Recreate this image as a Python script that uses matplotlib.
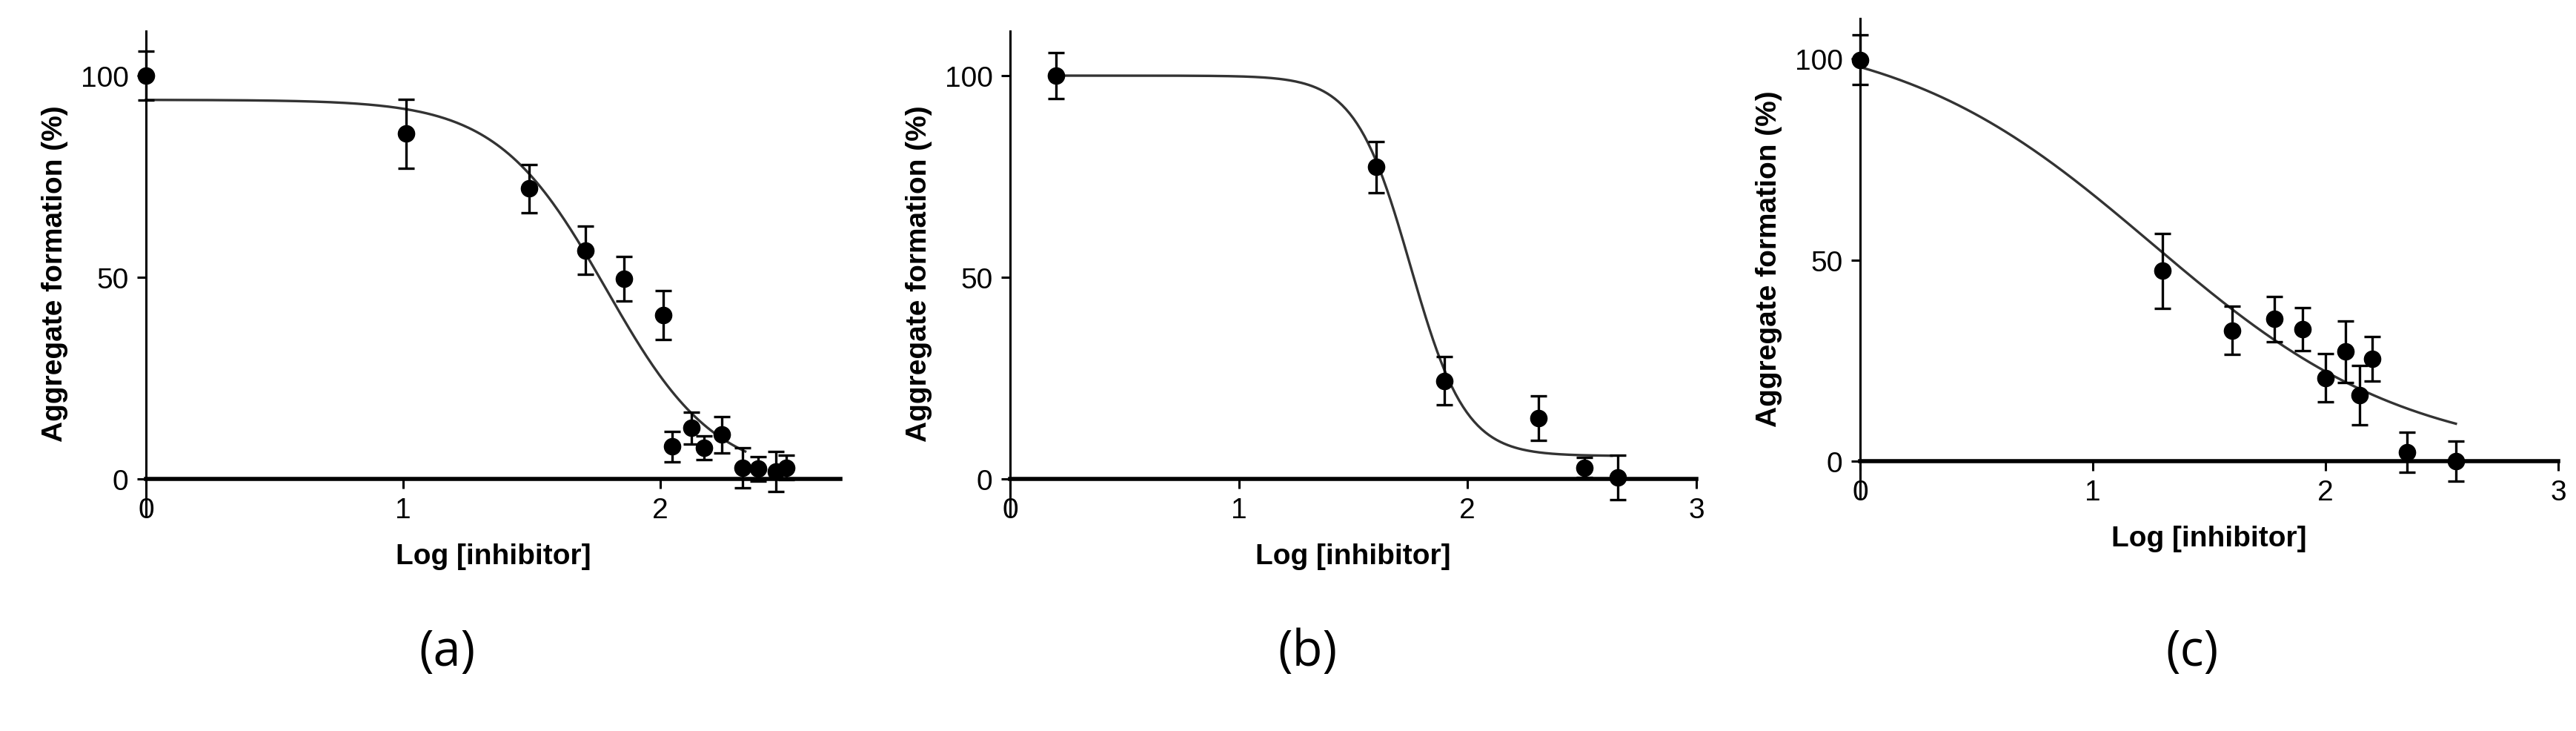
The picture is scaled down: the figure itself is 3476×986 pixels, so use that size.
import numpy as np
import matplotlib
matplotlib.use("Agg")
import matplotlib.pyplot as plt

# Panel (a)
a_x = [0.0, 1.01, 1.49, 1.71, 1.86, 2.01, 2.045, 2.12, 2.17, 2.24, 2.32, 2.38, 2.45, 2.49]
a_y = [100, 85.6, 72, 56.7, 49.7, 40.6, 8, 12.6, 7.7, 11, 2.8, 2.5, 1.8, 2.8]
a_err = [6, 8.5, 6, 6, 5.5, 6, 3.7, 4, 3, 4.5, 5, 3, 5, 3]
a_fit = dict(top=94.0, bottom=0.0, logc=1.79, hill=2.05, xmin=0.0, xmax=2.33)

# Panel (b)
b_x = [0.2, 1.60, 1.90, 2.31, 2.51, 2.655]
b_y = [100, 77.3, 24.3, 15.1, 2.8, 0.3]
b_err = [5.7, 6.3, 6.0, 5.5, 2.5, 5.5]
b_fit = dict(top=100.0, bottom=5.7, logc=1.75, hill=3.6, xmin=0.2, xmax=2.63)

# Panel (c)
c_x = [0.0, 1.30, 1.60, 1.78, 1.90, 2.00, 2.085, 2.145, 2.20, 2.35, 2.56]
c_y = [99.7, 47.3, 32.5, 35.3, 32.8, 20.7, 27.2, 16.4, 25.4, 2.2, 0.0]
c_err = [6.2, 9.3, 6.0, 5.6, 5.4, 6.0, 7.6, 7.3, 5.6, 5.0, 5.0]
c_fit = dict(top=108.0, bottom=0.0, logc=1.255, hill=0.786, xmin=0.0, xmax=2.56)

panel_labels = ["(a)", "(b)", "(c)"]
ylabel = "Aggregate formation (%)"
xlabel = "Log [inhibitor]"

W, H = 3476, 987
fig = plt.figure(figsize=(W / 100, H / 100), dpi=100)
fig.patch.set_facecolor("white")

layout = [
    (197, 1134, 2.70, [0, 1, 2]),
    (1363, 2289, 3.0, [0, 1, 2, 3]),
    (2510, 3452, 3.0, [0, 1, 2, 3]),
]
ypix = [(103, 647), (103, 647), (80, 623)]
ymins = -9.0

def fit_curve(p):
    xs = np.linspace(p["xmin"], p["xmax"], 300)
    ys = p["bottom"] + (p["top"] - p["bottom"]) / (1 + 10 ** ((xs - p["logc"]) * p["hill"]))
    return xs, ys

datasets = [(a_x, a_y, a_err, a_fit), (b_x, b_y, b_err, b_fit), (c_x, c_y, c_err, c_fit)]
label_x = [603, 1764, 2958]

for i, ((x0p, x1p, xmaxd, xt), (y100p, y0p), (xs, ys, es, fp)) in enumerate(zip(layout, ypix, datasets)):
    ppu = (y0p - y100p) / 100.0
    ytop = 111.0 if i < 2 else 110.0
    top_pix = y0p - ytop * ppu
    bot_pix = y0p - ymins * ppu
    ax = fig.add_axes([x0p / W, 1 - bot_pix / H, (x1p - x0p) / W, (bot_pix - top_pix) / H])
    ax.set_xlim(0, xmaxd)
    ax.set_ylim(ymins, ytop)
    ax.spines["top"].set_visible(False)
    ax.spines["right"].set_visible(False)
    ax.spines["bottom"].set_position(("data", 0))
    ax.spines["left"].set_linewidth(2.2)
    ax.spines["bottom"].set_linewidth(4)
    ax.set_xticks(xt)
    ax.set_yticks([0, 50, 100])
    ax.tick_params(axis="both", direction="out", length=9, width=2.2, labelsize=28, pad=8)
    for lab in ax.get_xticklabels() + ax.get_yticklabels():
        lab.set_family("Liberation Sans")
    cx, cy = fit_curve(fp)
    ax.plot(cx, cy, color="#333333", lw=2.4, zorder=2, clip_on=False)
    ax.errorbar(xs, ys, yerr=es, fmt="o", color="black", ms=16, elinewidth=2.4,
                capsize=8, capthick=2.4, zorder=3, clip_on=False)
    ax.set_ylabel(ylabel, fontsize=28, fontweight="bold", family="Liberation Sans", labelpad=12)
    ax.set_xlabel(xlabel, fontsize=28, fontweight="bold", family="Liberation Sans")
    ax.xaxis.set_label_coords(0.5, -(y0p + 86 - top_pix) / (bot_pix - top_pix) + 1 - 0.0)
    fig.text(label_x[i] / W, 1 - 880 / H, panel_labels[i], fontsize=48,
             family="Open Sans", ha="center", va="center")

fig.savefig("out.png", dpi=100, facecolor="white")
